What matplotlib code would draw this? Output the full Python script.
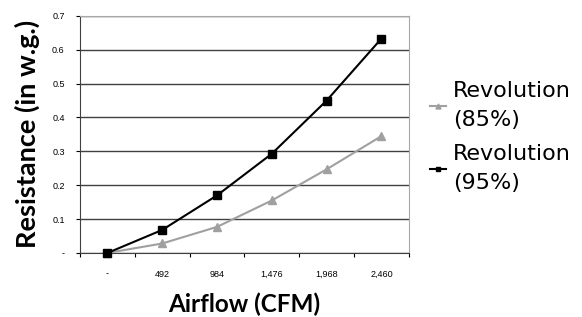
import matplotlib
matplotlib.use("Agg")
from matplotlib import pyplot as plt

airflow_labels = ["-", "492", "984", "1,476", "1,968", "2,460"]
rev_85 = [0.0, 0.028, 0.077, 0.155, 0.247, 0.345]
rev_95 = [0.0, 0.068, 0.170, 0.293, 0.450, 0.633]
y_ticks = [0.0, 0.1, 0.2, 0.3, 0.4, 0.5, 0.6, 0.7]
y_labels = ["-", "0.1", "0.2", "0.3", "0.4", "0.5", "0.6", "0.7"]

fig = plt.figure(figsize=(5.82, 3.17), dpi=100)
ax = fig.add_axes([0.1375, 0.202, 0.565, 0.748])

x = list(range(len(airflow_labels)))
ax.plot(x, rev_85, color="#a0a0a0", marker="^", markersize=6, lw=1.5,
        label="Revolution\n(85%)", clip_on=False, zorder=3)
ax.plot(x, rev_95, color="black", marker="s", markersize=6, lw=1.5,
        label="Revolution\n(95%)", clip_on=False, zorder=4)

ax.set_xlim(-0.5, 5.5)
ax.set_ylim(0, 0.7)
ax.set_yticks(y_ticks)
ax.set_yticklabels(y_labels, fontsize=6.5, family="Liberation Sans")
ax.set_xticks(x)
ax.set_xticklabels(airflow_labels, fontsize=6.5, family="Liberation Sans")
ax.set_xticks([i + 0.5 for i in range(-1, 6)], minor=True)
ax.tick_params(axis="x", which="major", length=0, pad=12)
ax.tick_params(axis="x", which="minor", length=3, width=0.8, direction="out")
ax.tick_params(axis="y", length=3, width=0.8, pad=8)

ax.grid(axis="y", color="#404040", lw=1)
ax.set_axisbelow(True)
ax.spines["left"].set_color("#404040")
ax.spines["bottom"].set_color("#404040")
ax.spines["top"].set_color("#a8a8a8")
ax.spines["right"].set_color("#a8a8a8")

ax.set_ylabel("Resistance (in w.g.)", fontsize=19.5, fontweight="bold",
              family="Lato", labelpad=9)
ax.set_xlabel("Airflow (CFM)", fontsize=17.5, fontweight="bold",
              family="Lato", labelpad=10)

leg = ax.legend(loc="upper left", bbox_to_anchor=(1.005, 0.81), frameon=False,
                prop={"family": "DejaVu Sans", "size": 16}, handlelength=0.7,
                handletextpad=0.3, markerscale=0.6, labelspacing=0.65)
for t in leg.get_texts():
    t.set_linespacing(1.55)

fig.savefig("out.png", dpi=100)
